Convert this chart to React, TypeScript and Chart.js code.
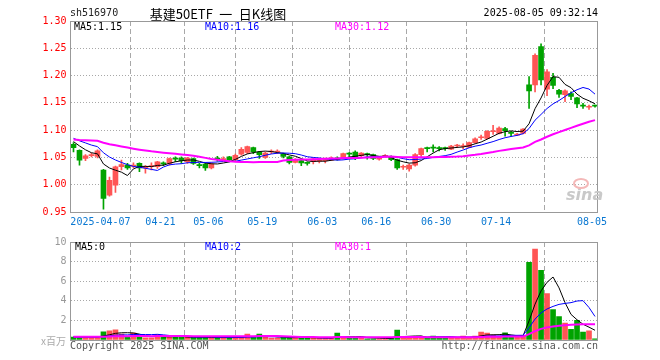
import React, { useEffect, useRef } from 'react';
import { Chart, registerables } from 'chart.js';

Chart.register(...registerables);

// ---- data ----
const tickIndex = [5, 15, 23, 32, 42, 51, 61, 71, 87];
const tickLabels = ['2025-04-07', '04-21', '05-06', '05-19', '06-03', '06-16', '06-30', '07-14', '08-05'];
const priceTicks = [0.95, 1.0, 1.05, 1.1, 1.15, 1.2, 1.25, 1.3];

const opens = [
  1.074, 1.063, 1.048, 1.053, 1.052, 1.027, 0.981, 0.999, 1.033, 1.036,
  1.034, 1.039, 1.031, 1.033, 1.033, 1.040, 1.039, 1.049, 1.049, 1.042,
  1.048, 1.037, 1.038, 1.031, 1.048, 1.046, 1.051, 1.046, 1.056, 1.059,
  1.068, 1.060, 1.050, 1.060, 1.060, 1.056, 1.051, 1.041, 1.044, 1.040,
  1.042, 1.043, 1.044, 1.045, 1.049, 1.049, 1.057, 1.060, 1.053, 1.056,
  1.055, 1.047, 1.052, 1.051, 1.046, 1.032, 1.029, 1.036, 1.055, 1.067,
  1.068, 1.067, 1.067, 1.065, 1.071, 1.070, 1.069, 1.077, 1.086, 1.085,
  1.097, 1.094, 1.103, 1.095, 1.091, 1.094, 1.183, 1.183, 1.253, 1.175,
  1.197, 1.173, 1.165, 1.167, 1.159, 1.145, 1.142, 1.145,
];
const highs = [
  1.077, 1.064, 1.055, 1.058, 1.064, 1.028, 1.014, 1.034, 1.045, 1.039,
  1.040, 1.040, 1.035, 1.040, 1.043, 1.042, 1.049, 1.051, 1.051, 1.050,
  1.049, 1.039, 1.040, 1.040, 1.052, 1.051, 1.052, 1.056, 1.068, 1.071,
  1.069, 1.061, 1.060, 1.064, 1.064, 1.058, 1.052, 1.048, 1.046, 1.042,
  1.049, 1.049, 1.049, 1.051, 1.051, 1.058, 1.059, 1.062, 1.059, 1.058,
  1.056, 1.050, 1.055, 1.053, 1.047, 1.036, 1.038, 1.057, 1.067, 1.069,
  1.073, 1.070, 1.069, 1.072, 1.074, 1.075, 1.078, 1.086, 1.091, 1.099,
  1.109, 1.106, 1.105, 1.098, 1.094, 1.103, 1.198, 1.240, 1.258, 1.211,
  1.204, 1.175, 1.174, 1.170, 1.160, 1.149, 1.146, 1.146,
];
const lows = [
  1.060, 1.036, 1.044, 1.051, 1.049, 0.955, 0.979, 0.986, 1.027, 1.028,
  1.031, 1.024, 1.021, 1.027, 1.030, 1.035, 1.036, 1.042, 1.039, 1.039,
  1.037, 1.031, 1.026, 1.029, 1.043, 1.044, 1.043, 1.044, 1.054, 1.057,
  1.057, 1.048, 1.048, 1.057, 1.057, 1.049, 1.038, 1.040, 1.035, 1.036,
  1.038, 1.040, 1.040, 1.044, 1.045, 1.047, 1.052, 1.046, 1.051, 1.047,
  1.046, 1.045, 1.050, 1.044, 1.028, 1.028, 1.025, 1.034, 1.052, 1.060,
  1.060, 1.062, 1.063, 1.064, 1.068, 1.066, 1.068, 1.076, 1.083, 1.084,
  1.092, 1.093, 1.089, 1.089, 1.090, 1.093, 1.140, 1.170, 1.183, 1.163,
  1.176, 1.160, 1.152, 1.156, 1.141, 1.140, 1.138, 1.142,
];
const closes = [
  1.068, 1.045, 1.053, 1.055, 1.062, 0.975, 1.008, 1.033, 1.037, 1.031,
  1.036, 1.031, 1.033, 1.035, 1.042, 1.038, 1.048, 1.047, 1.044, 1.049,
  1.039, 1.035, 1.031, 1.038, 1.047, 1.048, 1.045, 1.054, 1.065, 1.070,
  1.060, 1.055, 1.058, 1.061, 1.061, 1.052, 1.041, 1.046, 1.040, 1.039,
  1.047, 1.044, 1.045, 1.049, 1.047, 1.057, 1.056, 1.051, 1.058, 1.055,
  1.048, 1.048, 1.052, 1.046, 1.031, 1.033, 1.036, 1.055, 1.066, 1.066,
  1.067, 1.066, 1.066, 1.071, 1.072, 1.071, 1.077, 1.084, 1.087, 1.098,
  1.098, 1.104, 1.099, 1.094, 1.092, 1.102, 1.172, 1.237, 1.192, 1.207,
  1.182, 1.166, 1.172, 1.162, 1.148, 1.144, 1.143, 1.144,
];
// volume in millions
const volumes = [
  0.3, 0.3, 0.3, 0.3, 0.3, 0.83, 0.93, 1.03, 0.6, 0.33,
  0.7, 0.33, 0.23, 0.23, 0.57, 0.3, 0.3, 0.3, 0.3, 0.3,
  0.27, 0.27, 0.27, 0.27, 0.27, 0.27, 0.27, 0.27, 0.27, 0.6,
  0.3, 0.6, 0.3, 0.2, 0.2, 0.27, 0.27, 0.27, 0.2, 0.2,
  0.2, 0.2, 0.2, 0.2, 0.7, 0.27, 0.27, 0.27, 0.27, 0.13,
  0.13, 0.13, 0.13, 0.23, 1.0, 0.27, 0.27, 0.27, 0.27, 0.27,
  0.4, 0.27, 0.27, 0.23, 0.23, 0.4, 0.27, 0.4, 0.8, 0.7,
  0.5, 0.33, 0.73, 0.33, 0.33, 0.43, 7.93, 9.27, 7.1, 4.73,
  3.1, 2.4, 1.73, 1.1, 2.0, 0.8, 0.93, 0.13,
];
// sessions before the visible window (needed for the moving averages)
const priorCloses = [
  1.072, 1.070, 1.075, 1.076, 1.077, 1.090, 1.095, 1.098, 1.096, 1.096,
  1.085, 1.082, 1.078, 1.076, 1.075, 1.078, 1.080, 1.081, 1.079, 1.081,
  1.090, 1.092, 1.095, 1.090, 1.088, 1.085, 1.088, 1.082, 1.072,
];
const priorVolumes = [
  0.35, 0.4, 0.3, 0.45, 0.38, 0.3, 0.33, 0.42, 0.36, 0.3,
  0.28, 0.35, 0.4, 0.32, 0.3, 0.38, 0.34, 0.3, 0.29, 0.33,
  0.36, 0.31, 0.3, 0.28, 0.33, 0.3, 0.29, 0.31, 0.3,
];

// ---- styles ----
const UP = '#ff5555';
const DOWN = '#00a300';
const GRID = '#a8a8a8';
const FRAME = '#999999';
const MONO = '"DejaVu Sans Mono", "Liberation Mono", monospace';
const CJK = '"Noto Sans CJK SC", sans-serif';
const SLOTS = 88;

function movingAvg(series: number[], prior: number[], n: number): number[] {
  const all = prior.concat(series);
  return series.map((_, i) => {
    const end = prior.length + i;
    let s = 0;
    for (let k = end - n + 1; k <= end; k++) s += all[k];
    return s / n;
  });
}

const framePlugin = {
  id: 'frame',
  afterDraw(chart: any) {
    const { ctx, chartArea: a } = chart;
    ctx.save();
    ctx.strokeStyle = FRAME;
    ctx.lineWidth = 1;
    const l = Math.floor(a.left) + 0.5;
    const t = Math.floor(a.top) + 0.5;
    const r = Math.floor(a.right) - 0.5;
    const b = Math.floor(a.bottom) + 0.5;
    ctx.strokeRect(l, t, r - l, b - t);
    ctx.restore();
  },
};

function xScale(showLabels: boolean) {
  return {
    type: 'linear',
    min: 0,
    max: SLOTS,
    offset: false,
    afterBuildTicks: (s: any) => {
      s.ticks = tickIndex.map((v) => ({ value: v }));
    },
    afterFit: (s: any) => {
      s.height = 20;
    },
    ticks: {
      display: showLabels,
      autoSkip: false,
      maxRotation: 0,
      padding: 4,
      color: '#0a78d2',
      font: { family: MONO, size: 10 },
      callback: (v: any) => {
        const k = tickIndex.indexOf(Number(v));
        return k >= 0 ? tickLabels[k] : '';
      },
    },
    grid: { color: GRID, lineWidth: 1, drawTicks: false },
    border: { display: false, dash: [5, 3] },
  };
}

function lineDs(values: number[], color: string, width: number) {
  return {
    type: 'line',
    data: values.map((v, i) => ({ x: i + 0.5, y: v })),
    borderColor: color,
    borderWidth: width,
    pointRadius: 0,
    tension: 0,
    order: 0,
  };
}

function Label(p: { x: number; y: number; text: string; color: string; size: number; font?: string; align?: 'left' | 'right' | 'center' }) {
  const style: React.CSSProperties = {
    position: 'absolute',
    top: p.y - p.size / 2 - 1,
    fontFamily: p.font || MONO,
    fontSize: p.size,
    lineHeight: `${p.size + 2}px`,
    color: p.color,
    whiteSpace: 'pre',
  };
  if (p.align === 'right') style.right = 660 - p.x;
  else if (p.align === 'center') {
    style.left = p.x;
    style.transform = 'translateX(-50%)';
  } else style.left = p.x;
  return <div style={style}>{p.text}</div>;
}

export default function App() {
  const mainRef = useRef<HTMLCanvasElement>(null);
  const volRef = useRef<HTMLCanvasElement>(null);

  useEffect(() => {
    const colors = closes.map((c, i) => (c >= opens[i] ? UP : DOWN));
    const ma5 = movingAvg(closes, priorCloses, 5);
    const ma10 = movingAvg(closes, priorCloses, 10);
    const ma30 = movingAvg(closes, priorCloses, 30);
    const vma5 = movingAvg(volumes, priorVolumes, 5);
    const vma10 = movingAvg(volumes, priorVolumes, 10);
    const vma30 = movingAvg(volumes, priorVolumes, 30);

    const main = new Chart(mainRef.current as HTMLCanvasElement, {
      type: 'bar',
      data: {
        datasets: [
          lineDs(ma30, '#ff00ff', 2),
          lineDs(ma10, '#0000ff', 1),
          lineDs(ma5, '#000000', 1),
          {
            type: 'bar',
            data: lows.map((l, i) => ({ x: i + 0.5, y: [l, highs[i]] })),
            backgroundColor: colors,
            barThickness: 1,
            grouped: false,
            order: 2,
          },
          {
            type: 'bar',
            data: opens.map((o, i) => ({ x: i + 0.5, y: [o, closes[i]] })),
            backgroundColor: colors,
            barThickness: 5,
            minBarLength: 1,
            grouped: false,
            order: 1,
          },
        ] as any,
      },
      options: {
        animation: false,
        responsive: false,
        maintainAspectRatio: false,
        layout: { padding: { left: 0, right: 62, top: 21, bottom: 0 } },
        plugins: { legend: { display: false }, tooltip: { enabled: false } },
        scales: {
          x: xScale(true) as any,
          y: {
            min: 0.95,
            max: 1.3,
            afterBuildTicks: (s: any) => {
              s.ticks = priceTicks.map((v) => ({ value: v }));
            },
            afterFit: (s: any) => {
              s.width = 70.5;
            },
            ticks: {
              padding: 4,
              color: '#ff0000',
              font: { family: MONO, size: 10 },
              callback: (v: any) => Number(v).toFixed(2),
            },
            grid: { color: GRID, lineWidth: 1, drawTicks: false },
            border: { display: false, dash: [1, 2] },
          },
        },
      },
      plugins: [framePlugin],
    });

    const vol = new Chart(volRef.current as HTMLCanvasElement, {
      type: 'bar',
      data: {
        datasets: [
          lineDs(vma30, '#ff00ff', 2),
          lineDs(vma10, '#0000ff', 1),
          lineDs(vma5, '#000000', 1),
          {
            type: 'bar',
            data: volumes.map((v, i) => ({ x: i + 0.5, y: v })),
            backgroundColor: colors,
            barThickness: 5,
            grouped: false,
            order: 1,
          },
        ] as any,
      },
      options: {
        animation: false,
        responsive: false,
        maintainAspectRatio: false,
        layout: { padding: { left: 0, right: 62, top: 8, bottom: 0 } },
        plugins: { legend: { display: false }, tooltip: { enabled: false } },
        scales: {
          x: xScale(false) as any,
          y: {
            min: 0,
            max: 10,
            afterFit: (s: any) => {
              s.width = 70.5;
            },
            ticks: {
              stepSize: 2,
              padding: 4,
              color: '#999999',
              font: { family: MONO, size: 10 },
              callback: (v: any) => (Number(v) === 0 ? '' : String(v)),
            },
            grid: { color: GRID, lineWidth: 1, drawTicks: false },
            border: { display: false, dash: [1, 2] },
          },
        },
      },
      plugins: [framePlugin],
    });

    return () => {
      main.destroy();
      vol.destroy();
    };
  }, []);

  return (
    <div style={{ position: 'absolute', left: 0, top: 0, width: 660, height: 360, background: '#ffffff', overflow: 'hidden' }}>
      <canvas ref={mainRef} width={660} height={232} style={{ position: 'absolute', left: 0, top: 0, width: 660, height: 232 }} />
      <canvas ref={volRef} width={660} height={128} style={{ position: 'absolute', left: 0, top: 232, width: 660, height: 128 }} />
      <Label x={70} y={13} text="sh516970" color="#222" size={10} />
      <Label x={218} y={13} text={'基建50ETF\u2002一\u2002日K线图'} color="#000" size={13} font={CJK} align="center" />
      <Label x={598} y={13} text="2025-08-05 09:32:14" color="#000" size={10} align="right" />
      <Label x={74} y={27} text="MA5:1.15" color="#000" size={10} />
      <Label x={205} y={27} text="MA10:1.16" color="#0000ff" size={10} />
      <Label x={335} y={27} text="MA30:1.12" color="#ff00ff" size={10} />
      <Label x={75} y={247} text="MA5:0" color="#000" size={10} />
      <Label x={205} y={247} text="MA10:2" color="#0000ff" size={10} />
      <Label x={335} y={247} text="MA30:1" color="#ff00ff" size={10} />
      <Label x={66} y={341} text="x百万" color="#aaa" size={10} font={CJK} align="right" />
      <Label x={70} y={346} text="Copyright 2025 SINA.COM" color="#555" size={10} />
      <Label x={598} y={346} text="http://finance.sina.com.cn" color="#555" size={10} align="right" />
      <div style={{ position: 'absolute', left: 566, top: 186, fontFamily: '"DejaVu Sans", sans-serif', fontStyle: 'italic', fontWeight: 'bold', fontSize: 16, lineHeight: '18px', color: '#c9c9c9' }}>sina</div>
      <div style={{ position: 'absolute', left: 573, top: 178, width: 12, height: 7, borderRadius: '50%', border: '2px solid #f4b8b8' }} />
    </div>
  );
}
